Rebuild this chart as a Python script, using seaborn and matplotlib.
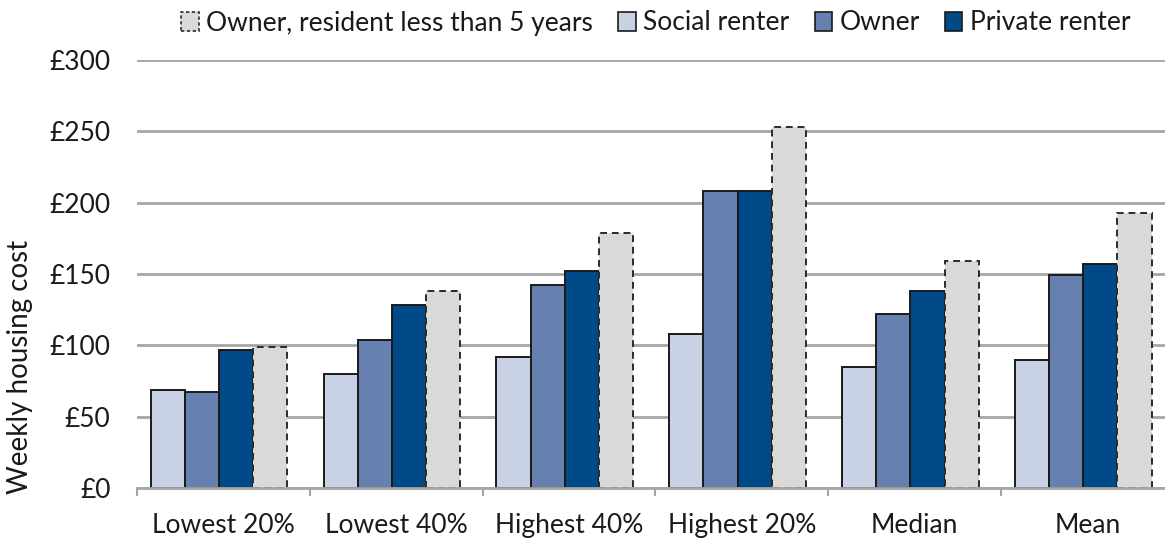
import matplotlib
matplotlib.use("Agg")
import matplotlib.pyplot as plt
from matplotlib.patches import Patch
from matplotlib.ticker import FixedLocator, FuncFormatter
import pandas as pd
import seaborn as sns

# Weekly housing cost (£) by household group and tenure
categories = ["Lowest 20%", "Lowest 40%", "Highest 40%", "Highest 20%", "Median", "Mean"]
social_renter = [69, 80, 92, 108, 85, 90]
owner = [67, 104, 142, 208, 122, 149]
private_renter = [97, 128, 152, 208, 138, 157]
owner_recent = [99, 138, 179, 253, 159, 193]

series = ["Social renter", "Owner", "Private renter", "Owner, resident less than 5 years"]
legend_order = ["Owner, resident less than 5 years", "Social renter", "Owner", "Private renter"]
y_ticks = [0, 50, 100, 150, 200, 250, 300]

colors = {
    "Social renter": "#C9D1E4",
    "Owner": "#6680B0",
    "Private renter": "#004A87",
    "Owner, resident less than 5 years": "#D9D9D9",
}

rows = []
for name, vals in zip(series, [social_renter, owner, private_renter, owner_recent]):
    for cat, v in zip(categories, vals):
        rows.append({"group": cat, "tenure": name, "cost": v})
df = pd.DataFrame(rows)

sns.set_theme(style="white")
plt.rcParams["font.family"] = ["Lato", "DejaVu Sans"]

fig = plt.figure(figsize=(11.65, 5.42), dpi=100)
ax = fig.add_axes([137 / 1165, 54 / 542, (1174 - 137) / 1165, 428 / 542])

sns.barplot(
    data=df, x="group", y="cost", hue="tenure",
    order=categories, hue_order=series, palette=colors, saturation=1,
    width=0.79, edgecolor="#1a1a1a", linewidth=1.4,
    legend=False, ax=ax, zorder=3,
)

# dashed outline for recent owners
for patch in ax.containers[3]:
    patch.set_linestyle((0, (3.5, 2.5)))
    patch.set_edgecolor("#2b2b2b")

# group boundaries sit slightly right of the bar clusters
offset = 0.025
ax.set_ylim(0, 300)
ax.set_xlim(-0.5 + offset, 5.5 + offset)
ax.set_xticks([i + offset for i in range(len(categories))], categories)
ax.set_yticks(y_ticks)
ax.yaxis.set_major_formatter(FuncFormatter(lambda v, p: f"£{int(v)}"))
ax.grid(axis="y", color="#A6A6A6", linewidth=2, zorder=0)
ax.set_axisbelow(True)

for side in ["left", "right", "top"]:
    ax.spines[side].set_visible(False)
ax.spines["bottom"].set_color("#A6A6A6")
ax.spines["bottom"].set_linewidth(2)
ax.spines["bottom"].set_zorder(4)

ax.tick_params(axis="y", length=0, pad=19, labelsize=19, labelcolor="#1a1a1a")
ax.tick_params(axis="x", which="major", length=0, pad=18, labelsize=19, labelcolor="#1a1a1a")
ax.xaxis.set_minor_locator(FixedLocator([i - 0.5 + offset for i in range(len(categories) + 1)]))
ax.tick_params(axis="x", which="minor", bottom=True, length=6, width=1.5, color="#A6A6A6")

ax.set_xlabel("")
ax.set_ylabel("Weekly housing cost", fontsize=20, color="#1a1a1a")
ax.yaxis.set_label_coords(-104 / 1037, (488 - 367) / 428)

handles = []
for name in legend_order:
    if name == "Owner, resident less than 5 years":
        handles.append(Patch(facecolor=colors[name], edgecolor="#2b2b2b",
                             linestyle=(0, (2, 1.5)), linewidth=1.2, label=name))
    else:
        handles.append(Patch(facecolor=colors[name], edgecolor="#1a1a1a",
                             linewidth=1.2, label=name))
fig.legend(handles=handles, loc="center", bbox_to_anchor=(656 / 1165, 1 - 23 / 542),
           ncol=4, frameon=False, fontsize=19, handlelength=0.65, handleheight=0.75,
           handletextpad=0.3, columnspacing=0.95, labelcolor="#1a1a1a")

fig.savefig("out.png", dpi=100)
